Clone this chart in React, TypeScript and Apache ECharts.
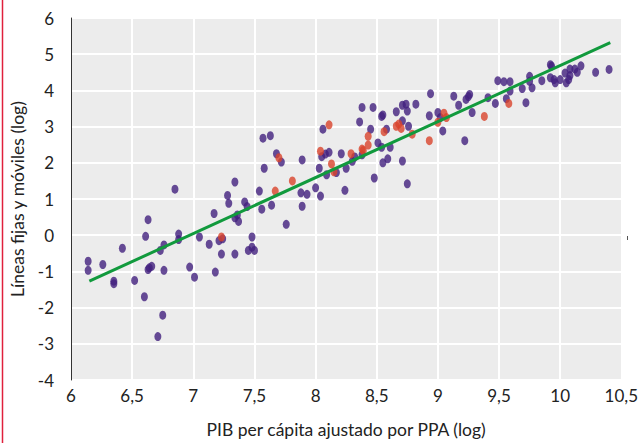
import React, { useEffect, useRef } from "react";
import * as echarts from "echarts";

// Purple points: [x (PIB log), y (lines log)]
const purplePoints: number[][] = [
  [6.14, -0.72], [6.14, -0.97], [6.26, -0.81], [6.35, -1.27], [6.35, -1.34],
  [6.42, -0.36], [6.52, -1.25], [6.60, -1.70], [6.63, 0.43], [6.61, -0.03],
  [6.85, 1.27], [6.63, -0.95], [6.64, -0.90], [6.66, -0.86], [6.76, -0.97],
  [6.73, -0.42], [6.76, -0.27], [6.75, -2.21], [6.71, -2.80], [6.88, 0.03],
  [6.88, -0.12], [6.97, -0.88], [7.01, -1.16], [7.05, -0.05], [7.13, -0.25],
  [7.18, -1.02], [7.17, 0.60], [7.23, -0.52], [7.21, -0.15], [7.24, -0.10],
  [7.34, -0.52], [7.34, 1.47], [7.28, 1.10], [7.29, 0.88], [7.42, 0.92],
  [7.44, 0.79], [7.34, 0.48], [7.36, 0.56], [7.37, 0.38], [7.48, -0.05],
  [7.45, -0.42], [7.48, -0.33], [7.50, -0.42], [7.54, 1.22], [7.56, 0.72],
  [7.64, 0.83], [7.57, 2.68], [7.63, 2.75], [7.68, 2.25], [7.72, 2.02],
  [7.58, 1.85], [7.76, 0.30], [7.89, 2.08], [7.88, 1.17], [7.93, 1.13],
  [7.89, 0.80], [8.00, 1.31], [8.04, 1.08], [8.03, 1.85], [8.05, 2.17],
  [8.06, 2.93], [8.09, 1.67], [8.08, 2.24], [8.11, 2.29], [8.17, 1.73],
  [8.21, 2.25], [8.25, 1.85], [8.24, 1.24], [8.30, 2.04], [8.32, 2.16],
  [8.36, 3.13], [8.38, 3.53], [8.38, 2.22], [8.45, 2.93], [8.47, 3.53],
  [8.48, 1.58], [8.51, 2.55], [8.54, 2.43], [8.54, 3.28], [8.55, 3.32],
  [8.58, 2.93], [8.55, 2.00], [8.59, 2.11], [8.61, 2.43], [8.66, 3.41],
  [8.71, 3.16], [8.71, 3.59], [8.74, 3.62], [8.75, 3.43], [8.76, 3.01],
  [8.71, 2.05], [8.75, 1.42], [8.82, 3.62], [8.94, 3.91], [8.93, 3.30],
  [9.00, 3.39], [9.02, 3.25], [9.04, 2.88], [9.13, 3.84], [9.17, 3.59],
  [9.22, 2.61], [9.23, 3.75], [9.25, 3.83], [9.26, 3.89], [9.28, 3.39],
  [9.41, 3.80], [9.47, 3.64], [9.49, 4.27], [9.54, 4.24], [9.59, 4.24],
  [9.56, 3.77], [9.59, 3.98], [9.69, 4.05], [9.72, 3.66], [9.75, 4.39],
  [9.75, 4.25], [9.77, 4.07], [9.85, 4.27], [9.92, 4.71], [9.93, 4.67],
  [9.92, 4.35], [9.95, 4.30], [9.96, 4.21], [10.00, 4.30], [10.04, 4.48],
  [10.05, 4.21], [10.07, 4.30], [10.08, 4.41], [10.08, 4.59], [10.12, 4.59],
  [10.14, 4.50], [10.17, 4.68], [10.29, 4.50], [10.40, 4.58],
];

// Red points
const redPoints: number[][] = [
  [7.23, -0.05], [7.67, 1.22], [7.70, 2.14], [7.81, 1.50], [8.04, 2.32],
  [8.11, 3.05], [8.13, 1.97], [8.15, 1.75], [8.29, 2.25], [8.38, 2.38],
  [8.39, 2.34], [8.43, 2.73], [8.43, 2.49], [8.56, 2.86], [8.66, 3.01],
  [8.68, 3.07], [8.70, 2.95], [8.79, 2.79], [8.93, 2.61], [9.00, 3.12],
  [9.05, 3.37], [9.07, 3.25], [9.38, 3.28], [9.58, 3.64],
];

// Trend line end points
const trendLine: number[][] = [
  [6.15, -1.27],
  [10.41, 5.32],
];

const xTitle = "PIB per cápita ajustado por PPA (log)";
const yTitle = "Líneas fijas y móviles (log)";

const FONT = "Lato, 'Open Sans', sans-serif";

export default function App() {
  const ref = useRef<HTMLDivElement>(null);

  useEffect(() => {
    if (!ref.current) return;
    const chart = echarts.init(ref.current, undefined, { renderer: "svg" });
    const fmt = (v: number) => String(v).replace(".", ",");
    chart.setOption({
      animation: false,
      backgroundColor: "#ffffff",
      grid: {
        left: 70,
        top: 18,
        right: 12,
        bottom: 60,
        show: true,
        backgroundColor: "#ececec",
        borderWidth: 0,
      },
      xAxis: {
        type: "value",
        min: 6,
        max: 10.5,
        interval: 0.5,
        name: xTitle,
        nameLocation: "middle",
        nameGap: 40,
        nameTextStyle: { fontFamily: FONT, fontSize: 17.5, color: "#222" },
        axisLine: { show: false },
        axisTick: { show: false },
        axisLabel: {
          formatter: fmt,
          fontFamily: FONT,
          fontSize: 17,
          color: "#222",
          margin: 7,
        },
        splitLine: { show: true, lineStyle: { color: "#ffffff", width: 2 } },
      },
      yAxis: {
        type: "value",
        min: -4,
        max: 6,
        interval: 1,
        name: yTitle,
        nameLocation: "middle",
        nameGap: 45,
        nameTextStyle: { fontFamily: FONT, fontSize: 17.5, color: "#222" },
        axisLine: { show: true, lineStyle: { color: "#333", width: 1 } },
        axisTick: { show: false },
        axisLabel: {
          formatter: fmt,
          fontFamily: FONT,
          fontSize: 17,
          color: "#222",
          margin: 17,
        },
        splitLine: { show: true, lineStyle: { color: "#ffffff", width: 2 } },
      },
      graphic: [
        {
          type: "line",
          shape: { x1: 2.5, y1: 0, x2: 2.5, y2: 443 },
          style: { stroke: "#e0203c", lineWidth: 1.5 },
        },
        {
          type: "line",
          shape: { x1: 627.5, y1: 236, x2: 627.5, y2: 240 },
          style: { stroke: "#555", lineWidth: 1 },
        },
      ],
      series: [
        {
          type: "scatter",
          data: purplePoints,
          symbol: "circle",
          symbolSize: [7, 9],
          itemStyle: { color: "#42207e" },
          z: 2,
        },
        {
          type: "scatter",
          data: redPoints,
          symbol: "circle",
          symbolSize: [7, 9],
          itemStyle: { color: "#d9432c" },
          z: 3,
        },
        {
          type: "line",
          data: trendLine,
          showSymbol: false,
          symbol: "none",
          lineStyle: { color: "#119a3d", width: 3 },
          z: 4,
        },
      ],
    });
    return () => chart.dispose();
  }, []);

  return (
    <div
      ref={ref}
      style={{ position: "absolute", left: 0, top: 0, width: 641, height: 443 }}
    />
  );
}
